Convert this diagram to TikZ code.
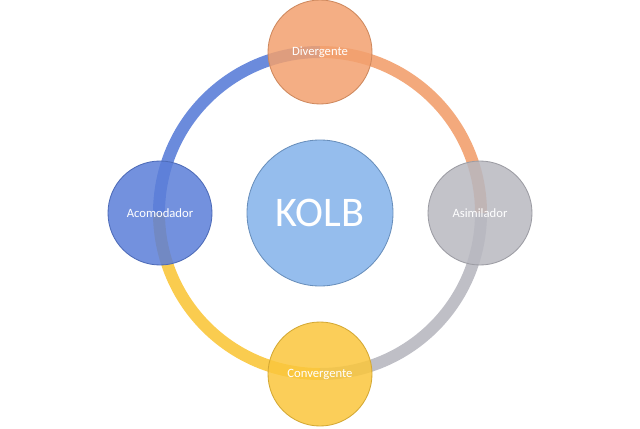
\documentclass[tikz,border=0pt]{standalone}
\usepackage{fontspec}
\setmainfont{Carlito}
\definecolor{kblue}{HTML}{5B7ED8}
\definecolor{korange}{HTML}{F2A06E}
\definecolor{kgrey}{HTML}{B8B8C0}
\definecolor{kyellow}{HTML}{FAC63C}
\definecolor{kcenter}{HTML}{82B2EA}
\tikzstyle{stage} = [circle, minimum size=2.6cm, inner sep=0pt, text=white,
                 font=\small, fill opacity=0.85, text opacity=1, line width=0.6pt]
\tikzstyle{ring} = [line width=0.3cm, opacity=0.9]

\begin{document}
\begin{tikzpicture}
\useasboundingbox (0,0) rectangle (16,10.7);

\coordinate (o) at (8,5.375);
%ring
\draw [ring, kblue] ([shift={(180:4.025)}]o) arc (180:90:4.025);
\draw [ring, korange] ([shift={(90:4.025)}]o) arc (90:0:4.025);
\draw [ring, kgrey] ([shift={(0:4.025)}]o) arc (360:270:4.025);
\draw [ring, kyellow] ([shift={(270:4.025)}]o) arc (270:180:4.025);

\node [stage, minimum size=3.65cm, fill=kcenter, draw=kcenter!80!black, font=\fontsize{30}{32}\selectfont] (kolb) at (o) {KOLB};
\node [stage, fill=korange, draw=korange!85!black] (div) at (8,9.4) {Divergente};
\node [stage, fill=kgrey, draw=kgrey!85!black] (asi) at (12,5.375) {Asimilador};
\node [stage, fill=kyellow, draw=kyellow!85!black] (con) at (8,1.35) {Convergente};
\node [stage, fill=kblue, draw=kblue!85!black] (aco) at (4,5.375) {Acomodador};

\end{tikzpicture}
\end{document}
